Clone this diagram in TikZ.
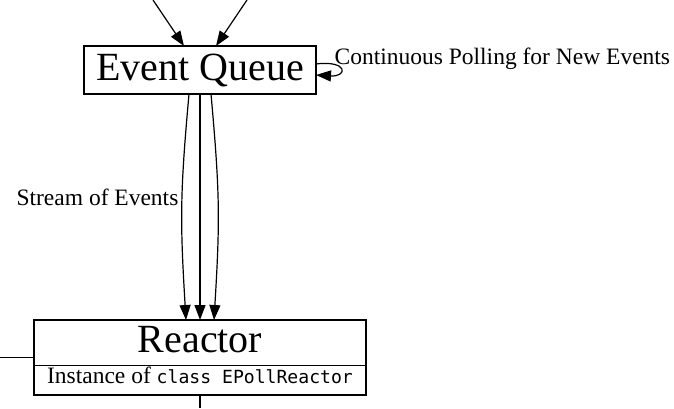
\documentclass[tikz,border=0pt]{standalone}
\usepackage{fontspec}
\setmainfont{Liberation Serif}
\setmonofont{DejaVu Sans Mono}
\usetikzlibrary{arrows.meta,shapes.multipart}

\tikzset{
  arr/.style={-{Triangle[length=7.5pt, width=5.5pt]}},
  box/.style={draw, inner sep=0pt, outer sep=0pt},
  bigfont/.style={font=\fontsize{20pt}{24pt}\selectfont},
  lblfont/.style={font=\fontsize{11.75pt}{14pt}\selectfont},
}

\begin{document}
\begin{tikzpicture}[x=0.5pt, y=-0.5pt, line width=0.6pt]
\useasboundingbox (0,0) rectangle (674,408);

% Event Queue
\node[box, bigfont, minimum width=116pt, minimum height=24pt] (queue) at (200,70) {Event Queue};

% Reactor (two parts)
\node[box, rectangle split, rectangle split parts=2, minimum width=166pt,
      inner ysep=0pt, inner xsep=0pt] (reactor) at (200,357.5)
  {\nodepart{one}\fontsize{20pt}{24pt}\selectfont\rule[-6pt]{0pt}{22pt}Reactor
   \nodepart{two}\fontsize{11.75pt}{14pt}\selectfont\rule[-5.5pt]{0pt}{14.3pt}Instance of {\fontsize{9.05pt}{11pt}\selectfont\ttfamily class EPollReactor}};

% free ends
\coordinate (srcA) at (153,0);
\coordinate (srcB) at (247,0);
\coordinate (leftend) at (0,357.5);
\coordinate (downend) at (200,408);

% incoming arrows
\draw[arr] (srcA) -- ([xshift=-8pt]queue.north);
\draw[arr] (srcB) -- ([xshift=8pt]queue.north);

% self loop
\draw[arr] ([yshift=3pt]queue.east) .. controls +(16pt,2pt) and +(16pt,-1pt) .. ([yshift=-2.5pt]queue.east);
\node[lblfont, anchor=west, inner sep=0pt] (pollnote) at (334,59) {Continuous Polling for New Events};

% stream of events
\draw[arr] ([xshift=-5.5pt]queue.south) .. controls +(-4.5pt,-50pt) and +(-3pt,50pt) .. ([xshift=-7pt]reactor.north);
\draw[arr] (queue.south) -- (reactor.north);
\draw[arr] ([xshift=5.5pt]queue.south) .. controls +(4.5pt,-50pt) and +(3pt,50pt) .. ([xshift=7pt]reactor.north);
\node[lblfont, anchor=east, inner sep=0pt] (streamnote) at (179,197) {Stream of Events};

% links out of the reactor
\draw (leftend) -- (reactor.west);
\draw (reactor.south) -- (downend);

\end{tikzpicture}
\end{document}
